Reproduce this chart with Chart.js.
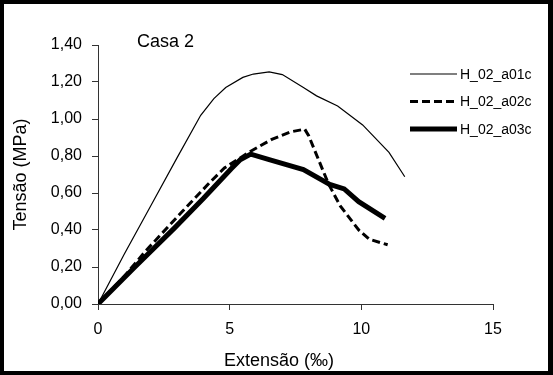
<!DOCTYPE html>
<html>
<head>
<meta charset="utf-8">
<script src="https://cdn.jsdelivr.net/npm/chart.js@4/dist/chart.umd.min.js"></script>
<style>
    body { margin: 0; background: #000; }
    canvas { display: block; }
</style>
</head>
<body>
<canvas id="caseChart" width="553" height="375"></canvas>
<script>
const seriesNames = ['H_02_a01c', 'H_02_a02c', 'H_02_a03c'];

const strainA01 = [0, 1, 2, 3, 3.9, 4.4, 4.85, 5.5, 5.9, 6.5, 7.0, 7.8, 8.3, 9.1, 10.05, 11.05, 11.65];
const stressA01 = [0, 0.27, 0.53, 0.79, 1.02, 1.11, 1.17, 1.225, 1.243, 1.255, 1.24, 1.17, 1.125, 1.07, 0.968, 0.82, 0.688];

const strainA02 = [0, 1, 1.8, 3.2, 4.3, 4.8, 5.8, 6.6, 7.3, 7.85, 8.0, 8.75, 9.2, 9.9, 10.3, 11.0];
const stressA02 = [0, 0.15, 0.285, 0.5, 0.665, 0.735, 0.826, 0.89, 0.93, 0.945, 0.91, 0.65, 0.53, 0.40, 0.35, 0.32];

const strainA03 = [0, 1.4, 2.9, 4, 5.05, 5.4, 5.8, 6.5, 7.8, 8.8, 9.35, 9.9, 10.9];
const stressA03 = [0, 0.2, 0.41, 0.57, 0.73, 0.78, 0.81, 0.78, 0.727, 0.646, 0.622, 0.553, 0.463];

const xTicks = [0, 5, 10, 15];
const yTicks = [0, 0.2, 0.4, 0.6, 0.8, 1.0, 1.2, 1.4];

const fontFamily = '"Liberation Sans", Arial, sans-serif';

const toPoints = (xs, ys) => xs.map((x, i) => ({ x: x, y: ys[i] }));

const formatComma = (value) => value.toFixed(2).replace('.', ',');

// black frame around the white sheet
const framePlugin = {
    id: 'frame',
    beforeDraw: (chart) => {
        const ctx = chart.ctx;
        ctx.save();
        ctx.fillStyle = '#000';
        ctx.fillRect(0, 0, chart.width, chart.height);
        ctx.fillStyle = '#fff';
        ctx.fillRect(4, 4, 544, 367);
        ctx.restore();
    }
};

// legend, case label and x title drawn where the original has them
const labelsPlugin = {
    id: 'labels',
    afterDraw: (chart) => {
        const ctx = chart.ctx;
        ctx.save();
        ctx.fillStyle = '#000';
        ctx.textBaseline = 'middle';

        ctx.font = '18px ' + fontFamily;
        ctx.fillText('Casa 2', 137, 42);

        ctx.textAlign = 'center';
        ctx.fillText('Extensão (‰)', 279, 361);

        ctx.textAlign = 'left';
        ctx.font = '14px ' + fontFamily;
        const rows = [74, 101.5, 129];
        chart.data.datasets.forEach((ds, i) => {
            const y = rows[i];
            ctx.strokeStyle = ds.borderColor;
            ctx.lineWidth = ds.borderWidth;
            ctx.setLineDash(ds.borderDash || []);
            ctx.beginPath();
            ctx.moveTo(410, y);
            ctx.lineTo(457, y);
            ctx.stroke();
            ctx.setLineDash([]);
            ctx.fillText(ds.label, 460, y + 1);
        });
        ctx.restore();
    }
};

const ctx = document.getElementById('caseChart').getContext('2d');
new Chart(ctx, {
    type: 'scatter',
    data: {
        datasets: [
            {
                label: seriesNames[0],
                data: toPoints(strainA01, stressA01),
                showLine: true,
                borderColor: '#000',
                borderWidth: 1.2,
                pointRadius: 0
            },
            {
                label: seriesNames[1],
                data: toPoints(strainA02, stressA02),
                showLine: true,
                borderColor: '#000',
                borderWidth: 3,
                borderDash: [8, 4],
                pointRadius: 0
            },
            {
                label: seriesNames[2],
                data: toPoints(strainA03, stressA03),
                showLine: true,
                borderColor: '#000',
                borderWidth: 5,
                pointRadius: 0
            }
        ]
    },
    options: {
        responsive: false,
        animation: false,
        layout: {
            padding: { left: 0, top: 45, right: 60, bottom: 0 }
        },
        plugins: {
            legend: { display: false },
            tooltip: { enabled: false }
        },
        scales: {
            x: {
                type: 'linear',
                min: 0,
                max: 15,
                afterFit: (scale) => { scale.height = 71; },
                afterBuildTicks: (scale) => { scale.ticks = xTicks.map(v => ({ value: v })); },
                border: { color: '#333', width: 1 },
                grid: { drawOnChartArea: false, tickLength: 6, color: '#333' },
                ticks: {
                    color: '#000',
                    padding: 10,
                    maxRotation: 0,
                    font: { family: fontFamily, size: 16 }
                }
            },
            y: {
                type: 'linear',
                min: 0,
                max: 1.4,
                afterFit: (scale) => { scale.width = 98; },
                afterBuildTicks: (scale) => { scale.ticks = yTicks.map(v => ({ value: v })); },
                border: { color: '#333', width: 1 },
                grid: { drawOnChartArea: false, tickLength: 6, color: '#333' },
                ticks: {
                    color: '#000',
                    padding: 10,
                    callback: (value) => formatComma(value),
                    font: { family: fontFamily, size: 16 }
                },
                title: {
                    display: true,
                    text: 'Tensão (MPa)',
                    color: '#000',
                    padding: { top: 10, bottom: 0 },
                    font: { family: fontFamily, size: 18 }
                }
            }
        }
    },
    plugins: [framePlugin, labelsPlugin]
});
</script>
</body>
</html>
